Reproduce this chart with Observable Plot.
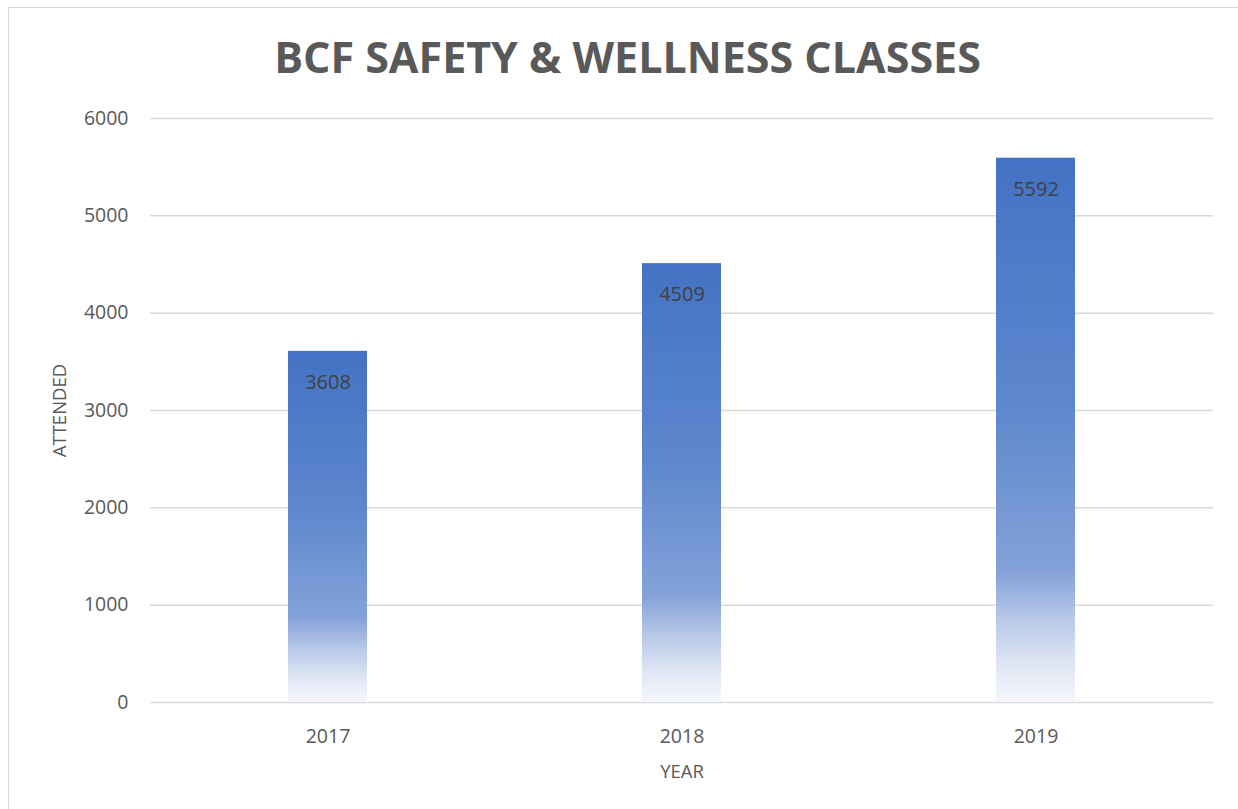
<!DOCTYPE html>
<html>
<head>
<meta charset="utf-8">
<script src="https://cdn.jsdelivr.net/npm/d3@7"></script>
<script src="https://cdn.jsdelivr.net/npm/@observablehq/plot@0.6"></script>
<style>
  html, body { margin: 0; padding: 0; background: #fff; }
  #wrap { position: relative; width: 1238px; height: 809px; overflow: hidden; background: #fff; }
  #frame { position: absolute; left: 8px; top: 7px; width: 1240px; height: 820px; border-left: 1.5px solid #d9d9d9; border-top: 1.5px solid #d9d9d9; box-sizing: border-box; }
  #title { position: absolute; left: 0; width: 1255px; top: 29px; text-align: center; font-family: "Open Sans", sans-serif; font-weight: 700; font-size: 43px; color: #595959; line-height: 56px; }
  #chart { position: absolute; left: 0; top: 0; }
</style>
</head>
<body>
<div id="wrap">
  <div id="frame"></div>
  <div id="chart"></div>
  <div id="title">BCF SAFETY &amp; WELLNESS CLASSES</div>
</div>
<script>
const years = ["2017", "2018", "2019"];
const attended = [3608, 4509, 5592];
const yTicks = [0, 1000, 2000, 3000, 4000, 5000, 6000];

const data = years.map((y, i) => ({year: y, value: attended[i]}));

const defs = () => {
  const d = d3.create("svg:defs");
  const g = d.append("linearGradient")
    .attr("id", "barGrad")
    .attr("x1", 0).attr("y1", 0).attr("x2", 0).attr("y2", 1);
  [[0, "#4472C4"], [0.45, "#5d87cd"], [0.76, "#84a2d9"], [0.85, "#b9c9e8"], [0.93, "#dfe6f4"], [1, "#f5f7fc"]]
    .forEach(([o, c]) => g.append("stop").attr("offset", o).attr("stop-color", c));
  return d.node();
};

const chart = Plot.plot({
  width: 1238,
  height: 809,
  marginTop: 118,
  marginBottom: 107,
  marginLeft: 150,
  marginRight: 25,
  style: { fontFamily: "'Open Sans', sans-serif", background: "transparent", color: "#595959" },
  x: { domain: years, paddingInner: 0.777, paddingOuter: 0.3885, label: null },
  y: { domain: [0, 6000], label: null },
  marks: [
    defs,
    Plot.ruleY(yTicks, { stroke: "#d9d9d9", strokeWidth: 1.5 }),
    Plot.barY(data, { x: "year", y: "value", fill: "url(#barGrad)" }),
    Plot.text(data, { x: "year", y: "value", text: d => String(d.value), dy: 31, fill: "#404040", fontSize: 20 }),
    Plot.axisY(yTicks, { tickSize: 0, tickPadding: 22, fontSize: 19.5, fill: "#595959", tickFormat: d => String(d), label: null }),
    Plot.axisX({ tickSize: 0, tickPadding: 27, fontSize: 19.5, fill: "#595959", label: null }),
    Plot.text(["YEAR"], { frameAnchor: "bottom", dy: 75, fontSize: 18.5, fill: "#595959" }),
    Plot.text(["ATTENDED"], { frameAnchor: "left", textAnchor: "middle", dx: -90, rotate: -90, fontSize: 18.5, fill: "#595959" })
  ]
});
document.getElementById("chart").appendChild(chart);
</script>
</body>
</html>
